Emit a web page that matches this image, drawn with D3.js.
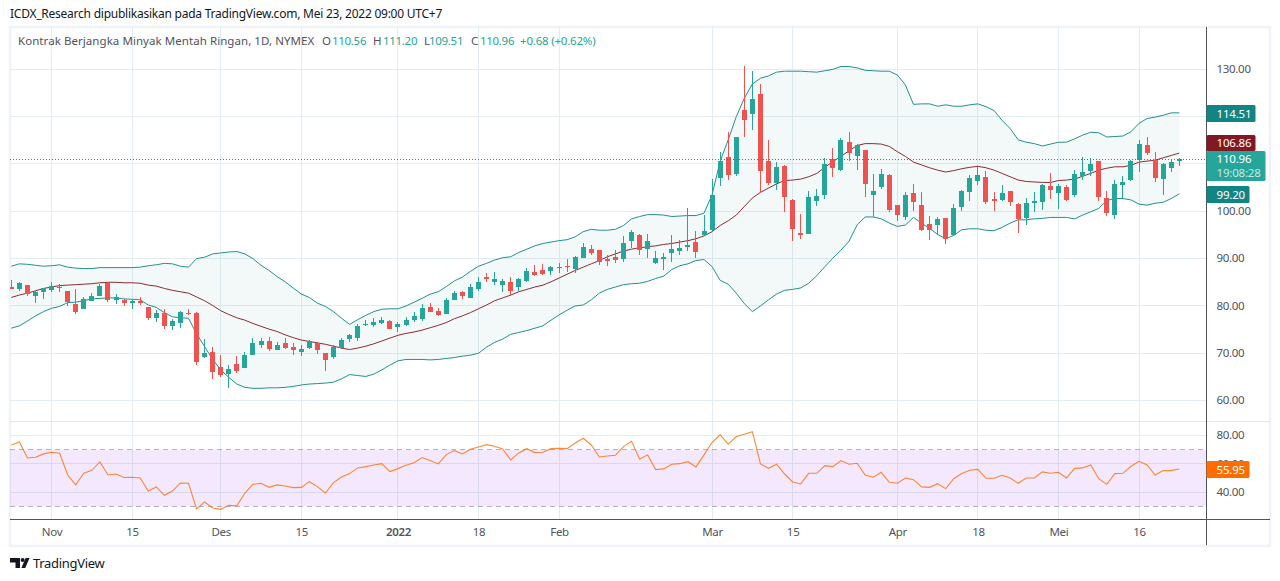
<!DOCTYPE html>
<html><head><meta charset="utf-8">
<script src="https://cdnjs.cloudflare.com/ajax/libs/d3/7.8.5/d3.min.js"></script>
<style>
html,body{margin:0;padding:0;background:#fff}
svg{display:block}
text{font-family:"Noto Sans",sans-serif}
</style></head><body>
<svg id="c" width="1280" height="581"></svg>
<script>
const titleText = "ICDX_Research dipublikasikan pada TradingView.com, Mei 23, 2022 09:00 UTC+7";
const symbolText = "Kontrak Berjangka Minyak Mentah Ringan, 1D, NYMEX";
const ohlcText = [["O","110.56"],["H","111.20"],["L","109.51"],["C","110.96"]];
const changeText = "+0.68 (+0.62%)";
const opens = [84.0,83.5,84.4,82.1,83.0,83.4,83.9,83.2,80.4,79.4,
81.0,82.1,84.8,81.3,81.3,80.6,81.1,79.8,77.5,78.5,
75.8,76.4,78.5,78.5,69.2,70.3,67.1,65.6,67.7,66.9,
69.6,71.8,72.6,70.7,72.2,71.3,70.3,71.1,72.2,70.1,
69.2,71.1,73.0,73.2,76.0,76.0,76.4,76.8,75.6,76.0,
77.0,77.2,79.8,78.9,78.3,81.3,83.0,81.7,83.6,86.1,
85.1,84.4,85.1,84.0,85.3,87.2,87.6,87.4,88.0,88.5,
87.8,90.1,92.0,91.8,89.9,90.4,89.9,93.7,95.0,92.0,
89.1,89.9,91.2,91.6,92.5,93.5,95.0,96.1,107.0,111.5,
107.9,121.4,120.6,124.8,110.6,106.0,109.6,102.4,95.4,95.2,
102.2,103.5,111.1,108.7,114.7,111.7,113.0,103.5,105.2,107.7,
101.3,98.8,103.9,101.3,97.3,97.1,98.6,95.0,100.9,104.1,
106.4,107.3,102.6,102.4,104.3,101.6,98.6,101.8,102.0,105.4,
103.9,105.1,103.5,107.5,108.5,110.6,102.8,99.2,105.6,106.6,
110.8,114.0,110.8,106.8,109.2,110.56];
const highs = [85.5,85.1,84.4,83.2,83.9,85.1,84.6,83.2,83.6,81.9,
82.7,84.6,84.8,82.5,81.5,81.2,81.9,79.8,79.2,79.4,
77.2,78.9,79.4,78.7,73.0,71.3,69.6,67.5,69.4,70.3,
73.2,73.2,73.4,72.4,73.2,72.2,71.8,72.8,72.4,70.1,
71.8,73.2,74.1,76.2,77.0,77.5,77.7,77.0,76.6,77.7,
78.7,80.4,80.6,79.6,81.7,83.2,83.2,84.6,86.1,87.0,
87.2,85.7,86.1,85.9,88.0,88.7,88.9,88.5,89.1,89.9,
90.6,93.3,92.9,91.8,90.8,91.8,94.8,96.1,95.2,95.2,
91.6,91.2,95.0,93.9,100.7,95.8,99.2,106.8,112.5,116.8,
115.7,130.7,129.6,126.9,115.1,110.4,109.8,102.6,99.5,104.3,
104.7,111.3,113.4,115.5,116.8,114.2,113.0,107.9,109.0,107.9,
101.3,104.1,105.8,104.1,99.0,98.8,98.6,101.6,104.5,107.7,
109.4,108.5,104.1,105.6,104.3,101.8,102.8,104.1,105.8,108.1,
105.8,105.6,108.7,111.5,111.3,110.6,104.3,106.6,107.5,110.8,
115.1,115.7,112.5,110.2,111.1,111.20];
const lows = [83.5,83.2,82.2,80.7,81.5,83.0,83.0,79.9,78.4,79.3,
81.0,82.0,80.9,80.5,80.0,79.4,80.2,77.0,76.6,75.2,
74.9,75.4,78.1,67.5,69.0,64.6,65.0,62.7,65.8,66.9,
69.6,71.1,70.5,70.6,70.9,69.6,69.4,70.9,69.9,66.3,
68.8,70.9,72.4,72.6,75.8,75.6,76.2,75.1,74.5,75.8,
76.6,76.9,78.7,77.9,78.3,81.3,81.5,81.7,83.2,85.1,
84.4,83.0,82.1,83.2,85.1,86.3,86.5,86.5,87.0,87.2,
87.0,90.1,90.8,88.7,88.5,89.1,89.3,92.2,90.8,90.1,
88.9,87.6,89.3,90.8,91.6,90.1,94.8,95.6,105.4,106.6,
107.5,115.7,117.2,103.9,105.6,104.5,99.9,93.7,94.2,95.2,
101.1,102.6,107.3,108.5,110.6,108.7,103.0,98.8,104.7,99.9,
98.0,98.2,100.1,95.9,93.9,95.0,93.1,94.8,100.1,102.2,
105.6,101.6,100.1,102.2,101.1,95.4,97.1,99.9,100.3,102.6,
100.5,102.2,103.0,106.6,107.5,102.2,99.0,98.4,102.6,106.4,
108.3,111.9,106.2,103.5,108.3,109.51];
const closes = [83.6,84.8,82.5,83.0,83.7,84.2,84.1,80.8,78.7,81.4,
82.1,84.2,81.3,81.8,80.6,81.0,80.6,77.5,78.5,75.8,
76.8,78.7,78.3,68.2,70.1,66.1,65.4,66.7,66.3,69.6,
72.2,72.6,70.9,71.8,71.1,70.7,70.9,72.5,70.7,68.6,
71.3,72.8,73.9,75.8,76.2,76.6,77.0,75.1,76.2,77.0,
77.9,79.6,78.7,78.1,81.3,82.7,82.1,84.0,85.1,85.7,
85.7,85.3,83.2,85.7,87.4,86.5,86.8,88.2,88.2,88.2,
90.4,92.5,91.2,89.3,89.6,89.7,93.3,95.6,91.8,93.7,
90.1,90.4,92.0,92.2,92.9,91.4,95.8,103.5,110.6,107.7,
115.7,119.3,123.7,108.5,106.0,109.4,103.0,96.3,95.0,103.0,
103.2,110.0,109.2,115.1,112.3,114.0,105.8,104.3,107.9,100.3,
99.2,103.5,102.0,96.1,96.1,98.4,94.2,100.7,104.3,107.0,
107.7,102.0,102.2,103.9,102.0,98.4,101.8,102.2,105.6,104.5,
105.4,102.4,107.9,108.3,110.0,103.0,99.7,105.8,106.2,110.6,
114.2,112.3,107.0,110.0,110.4,110.96];
const bbUpper = [88.4,88.9,88.8,88.6,88.4,88.5,88.7,88.2,88.0,87.9,
87.9,88.1,88.1,88.1,88.1,88.1,88.2,88.5,88.7,89.0,
88.9,88.4,88.2,90.0,90.3,91.0,91.2,91.4,91.5,91.0,
90.0,88.6,87.5,86.2,85.1,83.8,82.5,81.8,80.6,79.9,
78.8,77.4,76.1,77.1,78.0,78.8,79.3,79.4,79.4,80.0,
80.8,81.6,82.5,83.0,84.1,85.3,86.1,87.3,88.4,89.0,
89.7,90.2,90.4,91.3,92.0,92.7,93.2,93.5,93.8,94.0,
94.6,95.7,96.2,96.0,96.0,96.2,97.0,98.4,98.9,99.3,
99.3,99.2,98.9,99.0,99.1,99.1,99.6,103.5,110.6,115.1,
120.0,123.9,126.9,128.1,128.6,129.4,129.6,129.6,129.6,129.5,
129.4,129.7,130.0,130.6,130.6,130.3,129.8,129.7,129.6,129.6,
128.8,126.7,122.6,122.7,122.7,122.2,122.5,122.2,122.2,122.5,
122.7,122.1,121.3,119.2,117.5,115.1,114.6,114.3,113.8,114.2,
114.6,114.6,115.3,116.1,116.7,116.6,115.7,115.8,115.9,116.8,
118.6,119.6,119.9,120.3,120.8,120.8];
const bbMid = [81.8,82.3,82.7,83.2,83.7,84.0,84.3,84.4,84.5,84.6,
84.7,84.9,85.0,85.0,84.9,84.9,84.8,84.4,84.2,83.7,
83.3,83.0,82.7,81.9,81.1,80.1,79.0,78.2,77.5,77.0,
76.3,75.7,75.1,74.6,73.9,73.3,72.8,72.5,72.2,71.9,
71.5,71.1,70.8,71.1,71.5,72.0,72.6,73.2,73.8,74.2,
74.5,74.9,75.4,75.9,76.5,77.3,77.9,78.6,79.4,80.2,
81.1,81.7,82.3,83.0,83.5,84.0,84.4,85.1,85.9,86.7,
87.5,88.2,88.9,89.6,90.4,91.0,91.6,92.0,92.3,92.5,
92.7,93.0,93.2,93.5,93.8,94.2,94.8,95.7,97.0,98.0,
99.2,101.0,102.8,104.0,104.9,105.8,106.5,106.6,106.8,107.3,
108.0,109.3,110.5,111.6,112.8,113.9,114.3,114.3,114.2,113.7,
112.6,111.6,110.4,109.8,109.2,108.7,108.3,108.6,109.0,109.3,
109.5,109.2,108.7,108.0,107.3,106.6,106.3,106.2,106.1,106.1,
106.5,106.6,106.8,107.4,108.0,108.7,109.1,109.4,109.4,109.7,
110.4,110.6,110.8,111.3,111.8,112.3];
const bbLower = [75.3,75.8,76.8,77.9,78.8,79.5,79.9,80.7,80.8,81.1,
81.5,81.6,81.7,81.7,81.5,81.4,81.3,80.2,79.7,78.6,
77.7,77.5,77.4,74.1,71.4,68.7,66.5,64.9,63.5,62.8,
62.6,62.6,62.7,62.7,62.8,63.0,63.3,63.5,63.6,63.7,
63.9,64.6,65.5,65.3,65.1,65.6,66.5,67.5,68.4,68.7,
68.7,68.7,68.6,68.7,68.9,69.1,69.4,69.6,70.0,71.3,
72.3,73.0,74.0,74.4,74.8,75.3,75.8,77.0,78.1,79.1,
80.0,80.2,81.3,82.7,83.5,84.0,84.5,84.7,84.8,85.2,
85.8,86.3,87.7,88.5,88.9,89.6,89.8,88.3,85.4,84.6,
82.7,80.5,78.8,80.0,81.3,82.5,83.3,83.5,83.8,84.8,
86.4,88.3,90.1,91.8,93.7,97.1,98.8,98.8,98.4,97.5,
96.8,97.1,98.7,97.5,96.4,95.1,94.2,94.9,96.1,96.3,
96.3,96.0,95.9,96.6,97.5,98.2,98.2,98.4,98.5,98.7,
98.7,98.7,98.4,99.2,99.9,100.6,102.3,102.7,102.7,102.4,
101.5,101.3,101.7,101.9,102.7,103.7];
const rsi = [73.4,75.5,64.2,64.7,67.1,68.2,67.5,52.2,45.2,53.4,
55.5,61.4,52.2,52.9,50.4,50.6,50.1,40.9,43.8,37.9,
40.9,46.6,46.4,28.2,33.2,28.9,28.0,30.8,30.4,39.5,
45.6,46.4,43.5,45.2,44.5,43.3,43.5,47.5,44.0,39.5,
46.8,50.8,53.2,57.2,58.1,59.3,60.2,54.6,56.7,59.1,
60.9,64.5,62.4,60.0,66.6,69.4,67.1,70.4,72.0,73.6,
72.5,70.6,62.8,67.8,70.8,68.0,68.2,70.8,71.1,70.8,
74.8,78.1,73.4,64.9,65.6,66.1,72.2,76.0,63.5,66.4,
56.0,56.5,59.8,60.2,61.6,57.9,66.4,75.3,80.5,73.9,
79.3,80.9,82.8,60.0,56.9,59.8,52.9,47.3,45.9,53.4,
53.4,58.8,58.1,62.4,59.8,60.5,52.2,50.6,54.1,47.1,
46.4,50.1,48.9,43.8,43.5,46.1,42.6,49.6,53.2,55.5,
56.2,49.9,49.9,52.0,50.1,46.4,50.1,50.1,54.4,53.4,
54.1,50.1,56.9,57.2,59.3,49.6,45.6,53.2,53.4,58.4,
61.9,59.3,52.2,55.3,55.5,56.4];
const timeTickIndex = [5,15,26,36,48,58,68,87,97,110,120,130,140];
const timeTickLabel = ["Nov","15","Des","15","2022","18","Feb","Mar","15","Apr","18","Mei","16"];
const priceGridTicks = [60,70,80,90,100,110,120,130];
const priceLabelTicks = [60,70,80,90,100,130];
const rsiGridTicks = [40,60,80];
const rsiLevels = [30,70];
const bandUpperLabel = "114.51", bandMidLabel = "106.86", bandLowerLabel = "99.20";
const closeLabel = "110.96", countdownLabel = "19:08:28", rsiLabel = "55.95";

[highs,lows,closes,bbUpper,bbMid,bbLower,rsi].forEach((a,k)=>{ if(a.length!==opens.length) throw new Error("len "+k+" "+a.length); });

const UP="#26a69a", DOWN="#ef5350", GRID="#e3ecf2", TEXT="#50535e", AXIS="#50535e";
const L=10, R=1206, TOP=27, PANE=421.5, BOT=518.5, FR=1270, FB=546;
const svg=d3.select("#c");
const crisp=v=>Math.floor(v)+0.5;

const x=d3.scaleLinear().domain([0,145]).range([11.3,1179.3]);
const y=d3.scaleLinear().domain([60,130]).range([400.62,69.31]);
const yr=d3.scaleLinear().domain([40,80]).range([492.3,435.6]);

const defs=svg.append("defs");
defs.append("clipPath").attr("id","main").append("rect").attr("x",L).attr("y",TOP).attr("width",R-L).attr("height",PANE-TOP);
defs.append("clipPath").attr("id","sub").append("rect").attr("x",L).attr("y",PANE).attr("width",R-L).attr("height",BOT-PANE);

// title
svg.append("text").attr("x",10).attr("y",18).attr("font-size",12).attr("letter-spacing",-0.24).attr("fill","#131722").text(titleText);

// frame
svg.append("rect").attr("x",10).attr("y",27).attr("width",FR-10).attr("height",FB-27).attr("fill","none").attr("stroke","#f0f3fa").attr("stroke-width",2.5);

// grid
const g=svg.append("g").attr("shape-rendering","crispEdges");
g.selectAll("line.v").data(timeTickIndex).join("line").attr("class","v")
 .attr("x1",d=>crisp(x(d))).attr("x2",d=>crisp(x(d))).attr("y1",TOP).attr("y2",BOT).attr("stroke",GRID);
g.selectAll("line.h").data(priceGridTicks).join("line").attr("class","h")
 .attr("x1",L).attr("x2",R).attr("y1",d=>crisp(y(d))).attr("y2",d=>crisp(y(d))).attr("stroke",GRID);
g.selectAll("line.r").data(rsiGridTicks).join("line").attr("class","r")
 .attr("x1",L).attr("x2",R).attr("y1",d=>crisp(yr(d))).attr("y2",d=>crisp(yr(d))).attr("stroke",GRID);

// main pane
const m=svg.append("g").attr("clip-path","url(#main)");
m.append("path").datum(d3.range(146)).attr("fill","#1e8a8a").attr("fill-opacity",0.055)
 .attr("d",d3.area().x(i=>x(i)).y0(i=>y(bbLower[i])).y1(i=>y(bbUpper[i])));
const ln=a=>d3.line().x(i=>x(i)).y(i=>y(a[i]));
m.append("path").datum(d3.range(146)).attr("fill","none").attr("stroke","#22908f").attr("stroke-width",1).attr("d",ln(bbUpper));
m.append("path").datum(d3.range(146)).attr("fill","none").attr("stroke","#22908f").attr("stroke-width",1).attr("d",ln(bbLower));
m.append("path").datum(d3.range(146)).attr("fill","none").attr("stroke","#8a2c33").attr("stroke-width",1).attr("d",ln(bbMid));

const cg=m.append("g").attr("shape-rendering","crispEdges");
const cc=i=>Math.round(x(i)-0.5)+0.5;
const col=i=>closes[i]>=opens[i]?UP:DOWN;
cg.selectAll("rect.w").data(d3.range(146)).join("rect").attr("class","w")
 .attr("x",i=>cc(i)-0.5).attr("width",1).attr("y",i=>y(highs[i])).attr("height",i=>y(lows[i])-y(highs[i])).attr("fill",col);
cg.selectAll("rect.b").data(d3.range(146)).join("rect").attr("class","b")
 .attr("x",i=>cc(i)-2.5).attr("width",5).attr("y",i=>y(Math.max(opens[i],closes[i])))
 .attr("height",i=>Math.max(1,Math.abs(y(opens[i])-y(closes[i])))).attr("fill",col);

// last price dotted line
svg.append("line").attr("x1",L).attr("x2",R).attr("y1",crisp(y(closes[145]))).attr("y2",crisp(y(closes[145])))
 .attr("stroke","#1f8f86").attr("stroke-dasharray","1 2").attr("shape-rendering","crispEdges");

// RSI pane
const s=svg.append("g").attr("clip-path","url(#sub)");
s.append("rect").attr("x",L).attr("width",R-L).attr("y",yr(70)).attr("height",yr(30)-yr(70)).attr("fill","#a040f0").attr("fill-opacity",0.12);
s.selectAll("line.lv").data(rsiLevels).join("line").attr("class","lv").attr("x1",L).attr("x2",R)
 .attr("y1",d=>crisp(yr(d))).attr("y2",d=>crisp(yr(d))).attr("stroke","#787b86").attr("stroke-opacity",0.55).attr("stroke-dasharray","5 4");
s.append("path").datum(d3.range(146)).attr("fill","none").attr("stroke","#ff6d00").attr("stroke-opacity",0.8).attr("stroke-width",1.1)
 .attr("d",d3.line().x(i=>x(i)).y(i=>yr(rsi[i])));

// separators
const sep=svg.append("g").attr("shape-rendering","crispEdges");
sep.append("line").attr("x1",L).attr("x2",FR).attr("y1",PANE).attr("y2",PANE).attr("stroke","#e3e6ec");
sep.append("line").attr("x1",R+0.5).attr("x2",R+0.5).attr("y1",TOP).attr("y2",FB-1).attr("stroke",AXIS);

// axes
const axFont=g=>g.call(a=>a.selectAll("text").attr("font-size",11.5).attr("letter-spacing",-0.3).attr("fill",TEXT).attr("font-family",'"Noto Sans",sans-serif'));
const ax=d3.axisRight(y).tickValues(priceLabelTicks).tickSize(0).tickPadding(10.5).tickFormat(d3.format(".2f"));
svg.append("g").attr("transform",`translate(${R},-0.5)`).call(ax).call(a=>a.select(".domain").remove()).call(axFont);
const axr=d3.axisRight(yr).tickValues(rsiGridTicks).tickSize(0).tickPadding(10.5).tickFormat(d3.format(".2f"));
svg.append("g").attr("transform",`translate(${R},-0.5)`).call(axr).call(a=>a.select(".domain").remove()).call(axFont);
const axb=d3.axisBottom(x).tickValues(timeTickIndex).tickSize(0).tickPadding(9).tickFormat((d,i)=>timeTickLabel[i]);
svg.append("g").attr("transform",`translate(0,${BOT})`).call(axb)
 .call(a=>a.select(".domain").attr("d",`M${L},0.5H${FR}`).attr("stroke",AXIS).attr("shape-rendering","crispEdges"))
 .call(axFont).call(a=>a.selectAll("text").attr("font-weight",d=>d===48?"600":"400"));

// value labels
function tag(y0,h,w,bg,lines,fg){
 svg.append("rect").attr("x",R+0.5).attr("y",y0).attr("width",w).attr("height",h).attr("fill",bg).attr("rx",1.5);
 lines.forEach((t,k)=>svg.append("text").attr("x",1216.5).attr("y",y0+(lines.length>1?(k?25.5:12):h/2+4)).attr("font-size",11.5).attr("letter-spacing",-0.2).attr("fill",k?"rgba(255,255,255,.75)":fg).text(t));
}
tag(105,17,49,"#138484",[bandUpperLabel],"#fff");
tag(135,16,49,"#801922",[bandMidLabel],"#fff");
tag(151,30,59,UP,[closeLabel,countdownLabel],"#fff");
tag(186,17,43,"#138484",[bandLowerLabel],"#fff");
tag(461,17,43,"#ff6d00",[rsiLabel],"#fff");

// legend line
const h=svg.append("g").attr("font-size",11.5);
h.append("text").attr("x",18).attr("y",45).attr("fill",TEXT).attr("letter-spacing",0.06).text(symbolText);
const ox=[322,373,424,471];
ohlcText.forEach((p,k)=>{
 h.append("text").attr("x",ox[k]).attr("y",45).attr("fill",TEXT).text(p[0]);
 h.append("text").attr("x",ox[k]+(k==3?9:k==2?5:10)).attr("y",45).attr("fill",UP).attr("letter-spacing",-0.3).text(p[1]);
});
h.append("text").attr("x",520).attr("y",45).attr("fill",UP).attr("letter-spacing",-0.2).text(changeText);

// logo
const logo=svg.append("g").attr("fill","#131722");
logo.append("path").attr("d","M10 558H20V568H15.5V562.5H10Z");
logo.append("circle").attr("cx",22.6).attr("cy",560).attr("r",2);
logo.append("path").attr("d","M25.6 558H29.6L25.2 568H21.4Z");
svg.append("text").attr("x",33).attr("y",568).attr("font-size",13).attr("letter-spacing",-0.3).attr("fill","#131722").text("TradingView");
</script></body></html>
